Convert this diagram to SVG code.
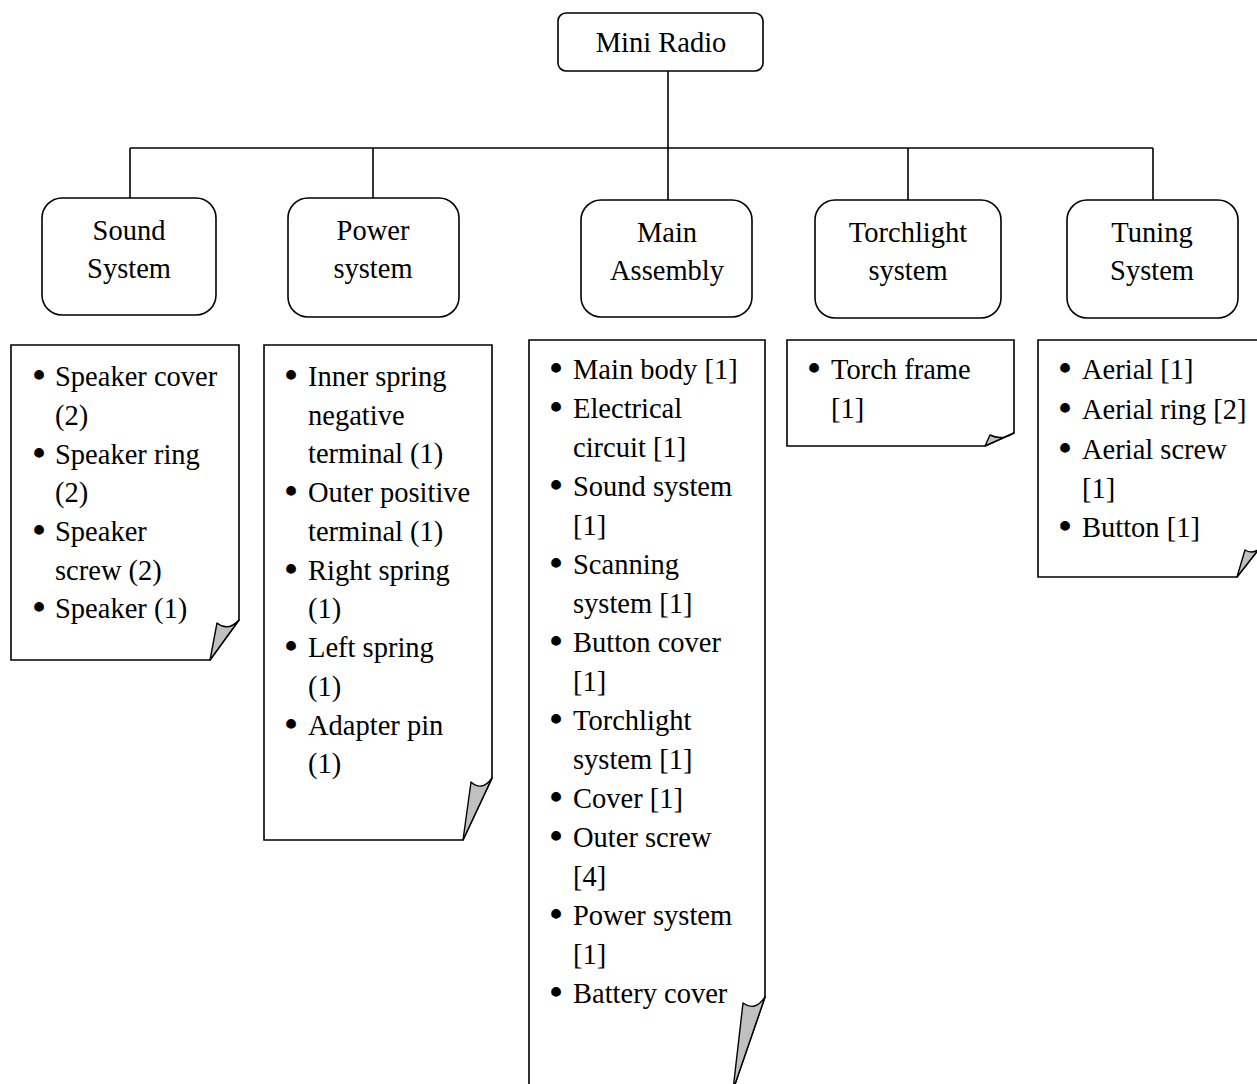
<svg xmlns="http://www.w3.org/2000/svg" width="1257" height="1084" viewBox="0 0 1257 1084">
  <style>
    .box { fill: #ffffff; stroke: #000000; stroke-width: 1.6; }
    .note { fill: #ffffff; stroke: #000000; stroke-width: 1.6; stroke-linejoin: miter; }
    .fold { fill: #c0c0c0; stroke: #000000; stroke-width: 1.4; stroke-linejoin: round; }
    .wire { fill: none; stroke: #000000; stroke-width: 1.6; }
    text { font-family: "Liberation Serif", "Times New Roman", serif; font-size: 28.5px; fill: #000000; }
    .c { text-anchor: middle; }
    .b { font-size: 36px; font-weight: bold; text-anchor: middle; }
  </style>
  <rect x="0" y="0" width="1257" height="1084" fill="#ffffff"/>

  <!-- connectors -->
  <g id="connectors">
    <path class="wire" d="M668,71 V148"/>
    <path class="wire" d="M130,148 H1153"/>
    <path class="wire" d="M130,148 V198"/>
    <path class="wire" d="M373,148 V198"/>
    <path class="wire" d="M668,148 V200"/>
    <path class="wire" d="M908,148 V200"/>
    <path class="wire" d="M1153,148 V200"/>
  </g>

  <!-- root -->
  <g id="mini-radio">
    <rect class="box" x="558" y="13" width="205" height="58" rx="8"/>
    <text class="c" x="661" y="52">Mini Radio</text>
  </g>

  <!-- subsystems -->
  <g id="sound-system">
    <rect class="box" x="42" y="198" width="174" height="117" rx="20"/>
    <text class="c" x="129" y="240">Sound</text>
    <text class="c" x="129" y="278">System</text>
  </g>
  <g id="power-system">
    <rect class="box" x="288" y="198" width="171" height="119" rx="20"/>
    <text class="c" x="373" y="240">Power</text>
    <text class="c" x="373" y="278">system</text>
  </g>
  <g id="main-assembly">
    <rect class="box" x="581" y="200" width="171" height="117" rx="20"/>
    <text class="c" x="667" y="242">Main</text>
    <text class="c" x="667" y="280">Assembly</text>
  </g>
  <g id="torchlight-system">
    <rect class="box" x="815" y="200" width="186" height="118" rx="20"/>
    <text class="c" x="908" y="242">Torchlight</text>
    <text class="c" x="908" y="280">system</text>
  </g>
  <g id="tuning-system">
    <rect class="box" x="1067" y="200" width="171" height="118" rx="20"/>
    <text class="c" x="1152" y="242">Tuning</text>
    <text class="c" x="1152" y="280">System</text>
  </g>

  <!-- part lists -->
  <g id="sound-parts">
    <path class="note" d="M11,345 H239 V620 L210,660 H11 Z"/>
    <path class="fold" d="M210,660 L239,620 Q228,632 217,623 Z"/>
    <text class="b" x="39" y="387">•</text>
    <text x="55" y="386">Speaker cover</text>
    <text x="55" y="425">(2)</text>
    <text class="b" x="39" y="465">•</text>
    <text x="55" y="464">Speaker ring</text>
    <text x="55" y="502">(2)</text>
    <text class="b" x="39" y="542">•</text>
    <text x="55" y="541">Speaker</text>
    <text x="55" y="580">screw (2)</text>
    <text class="b" x="39" y="619">•</text>
    <text x="55" y="618">Speaker (1)</text>
  </g>

  <g id="power-parts">
    <path class="note" d="M264,345 H492 V778 L463,840 H264 Z"/>
    <path class="fold" d="M463,840 L492,778 Q482,792 471,782 Z"/>
    <text class="b" x="291" y="387">•</text>
    <text x="308" y="386">Inner spring</text>
    <text x="308" y="425">negative</text>
    <text x="308" y="463">terminal (1)</text>
    <text class="b" x="291" y="503">•</text>
    <text x="308" y="502">Outer positive</text>
    <text x="308" y="541">terminal (1)</text>
    <text class="b" x="291" y="581">•</text>
    <text x="308" y="580">Right spring</text>
    <text x="308" y="618">(1)</text>
    <text class="b" x="291" y="658">•</text>
    <text x="308" y="657">Left spring</text>
    <text x="308" y="696">(1)</text>
    <text class="b" x="291" y="736">•</text>
    <text x="308" y="735">Adapter pin</text>
    <text x="308" y="773">(1)</text>
  </g>

  <g id="main-parts">
    <path class="note" d="M529,1090 V340 H765 V997 L733,1090"/>
    <path class="fold" d="M733,1090 L765,997 Q755,1012 743,1003 Z"/>
    <text class="b" x="556" y="380">•</text>
    <text x="573" y="379">Main body [1]</text>
    <text class="b" x="556" y="419">•</text>
    <text x="573" y="418">Electrical</text>
    <text x="573" y="457">circuit [1]</text>
    <text class="b" x="556" y="497">•</text>
    <text x="573" y="496">Sound system</text>
    <text x="573" y="535">[1]</text>
    <text class="b" x="556" y="575">•</text>
    <text x="573" y="574">Scanning</text>
    <text x="573" y="613">system [1]</text>
    <text class="b" x="556" y="653">•</text>
    <text x="573" y="652">Button cover</text>
    <text x="573" y="691">[1]</text>
    <text class="b" x="556" y="731">•</text>
    <text x="573" y="730">Torchlight</text>
    <text x="573" y="769">system [1]</text>
    <text class="b" x="556" y="809">•</text>
    <text x="573" y="808">Cover [1]</text>
    <text class="b" x="556" y="848">•</text>
    <text x="573" y="847">Outer screw</text>
    <text x="573" y="886">[4]</text>
    <text class="b" x="556" y="926">•</text>
    <text x="573" y="925">Power system</text>
    <text x="573" y="964">[1]</text>
    <text class="b" x="556" y="1004">•</text>
    <text x="573" y="1003">Battery cover</text>
  </g>

  <g id="torchlight-parts">
    <path class="note" d="M787,340 H1014 V433 L985,446 H787 Z"/>
    <path class="fold" d="M985,446 L1014,433 Q1002,441 990,435 Z"/>
    <text class="b" x="814" y="380">•</text>
    <text x="831" y="379">Torch frame</text>
    <text x="831" y="418">[1]</text>
  </g>

  <g id="tuning-parts">
    <path class="note" d="M1038,340 H1266 V540 L1237,577 H1038 Z"/>
    <path class="fold" d="M1237,577 L1266,540 Q1256,557 1245,550 Z"/>
    <text class="b" x="1065" y="380">•</text>
    <text x="1082" y="379">Aerial [1]</text>
    <text class="b" x="1065" y="420">•</text>
    <text x="1082" y="419">Aerial ring [2]</text>
    <text class="b" x="1065" y="460">•</text>
    <text x="1082" y="459">Aerial screw</text>
    <text x="1082" y="498">[1]</text>
    <text class="b" x="1065" y="538">•</text>
    <text x="1082" y="537">Button [1]</text>
  </g>
</svg>
